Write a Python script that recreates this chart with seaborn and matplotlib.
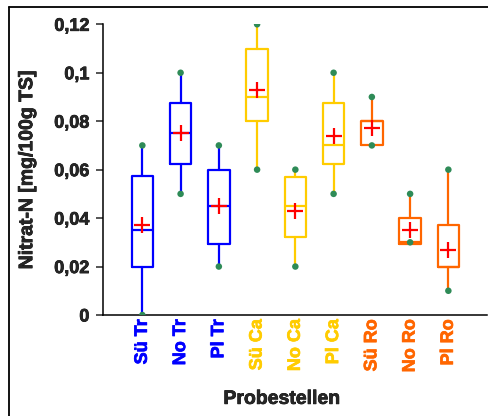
import matplotlib
matplotlib.use("Agg")
import numpy as np
import pandas as pd
import matplotlib.pyplot as plt
import matplotlib.patheffects as pe
import seaborn as sns
from matplotlib.lines import Line2D
from matplotlib.ticker import FuncFormatter

sns.set_style("white")
plt.rcParams['font.family'] = ['Liberation Sans', 'DejaVu Sans']
plt.rcParams['font.weight'] = 'bold'
plt.rcParams['axes.labelweight'] = 'bold'

# Werte
sites = ["Sü Tr", "No Tr", "Pl Tr", "Sü Ca", "No Ca", "Pl Ca", "Sü Ro", "No Ro", "Pl Ro"]
val_min = [0.0, 0.05, 0.02, 0.06, 0.02, 0.05, 0.07, 0.03, 0.01]
val_q1 = [0.02, 0.0623, 0.0295, 0.08, 0.032, 0.0623, 0.07, 0.0295, 0.02]
val_med = [0.035, 0.075, 0.045, 0.09, 0.045, 0.07, 0.08, 0.03, 0.02]
val_q3 = [0.0575, 0.0875, 0.06, 0.11, 0.057, 0.0876, 0.08, 0.04, 0.0372]
val_max = [0.07, 0.10, 0.07, 0.12, 0.06, 0.10, 0.09, 0.05, 0.06]
val_mean = [0.037, 0.075, 0.045, 0.093, 0.043, 0.074, 0.077, 0.035, 0.027]
site_colors = ["#0000FF"] * 3 + ["#FFCC00"] * 3 + ["#FF6600"] * 3

pos = np.arange(len(sites))

fig = plt.figure(figsize=(4.89, 4.16), dpi=100)
ax = fig.add_axes([0.2113, 0.2428, 0.7846, 0.6988])

stats = [dict(whislo=lo, q1=a, med=m, q3=b, whishi=hi)
         for lo, a, m, b, hi in zip(val_min, val_q1, val_med, val_q3, val_max)]
art = ax.bxp(stats, positions=pos, widths=0.56, showcaps=False,
             showfliers=False, manage_ticks=False)
for i, c in enumerate(site_colors):
    art['boxes'][i].set(color=c, linewidth=1.6)
    art['medians'][i].set(color=c, linewidth=1.6)
    for w in art['whiskers'][2 * i:2 * i + 2]:
        w.set(color=c, linewidth=1.6)

ends = pd.DataFrame({"x": np.concatenate([pos, pos]),
                     "y": val_min + val_max})
sns.scatterplot(data=ends, x="x", y="y", ax=ax, color="#2E8B57",
                s=22, edgecolor="none", zorder=5)
means = pd.DataFrame({"x": pos, "y": val_mean})
sns.scatterplot(data=means, x="x", y="y", ax=ax, color="#FF0000",
                marker="+", s=130, linewidth=1.6, zorder=6)

ax.set_xlim(-1.02, 9.01)
ax.set_ylim(0, 0.12)
ax.set_yticks([0, 0.02, 0.04, 0.06, 0.08, 0.1, 0.12])
ax.yaxis.set_major_formatter(FuncFormatter(
    lambda v, p: f"{round(v, 4):g}".replace(".", ",")))
ax.set_xticks(pos)
ax.set_xticklabels(sites, rotation=90, fontsize=13, fontweight="bold")
for lbl, c in zip(ax.get_xticklabels(), site_colors):
    lbl.set_color(c)
ax.tick_params(axis="x", length=0, pad=3)
ax.tick_params(axis="y", length=5, width=1.1, direction="out", pad=5,
               labelsize=13, left=True)

sns.despine(ax=ax)
for s in ["left", "bottom"]:
    ax.spines[s].set_linewidth(1.1)
    ax.spines[s].set_color("black")

ax.set_xlabel("Probestellen", fontsize=14, fontweight="bold")
ax.set_ylabel("Nitrat-N [mg/100g TS]", fontsize=14, fontweight="bold")
ax.xaxis.set_label_coords(0.465, -0.261)
ax.yaxis.set_label_coords(-0.175, 0.5)

# etwas kraeftigere Schrift wie im Original
thick = [pe.withStroke(linewidth=0.5, foreground="black")]
ax.xaxis.label.set_path_effects(thick)
ax.yaxis.label.set_path_effects(thick)
for lbl in ax.get_yticklabels():
    lbl.set_fontweight("bold")
    lbl.set_path_effects(thick)
for lbl, c in zip(ax.get_xticklabels(), site_colors):
    lbl.set_path_effects([pe.withStroke(linewidth=0.5, foreground=c)])

# Rahmen um die Grafik
fig.add_artist(Line2D([9.3 / 489, 1.0], [1 - 7.3 / 416] * 2,
                      color="black", linewidth=1.3, transform=fig.transFigure))
fig.add_artist(Line2D([9.3 / 489] * 2, [0.0, 1 - 7.3 / 416],
                      color="black", linewidth=1.3, transform=fig.transFigure))

fig.savefig("out.png", dpi=100)
